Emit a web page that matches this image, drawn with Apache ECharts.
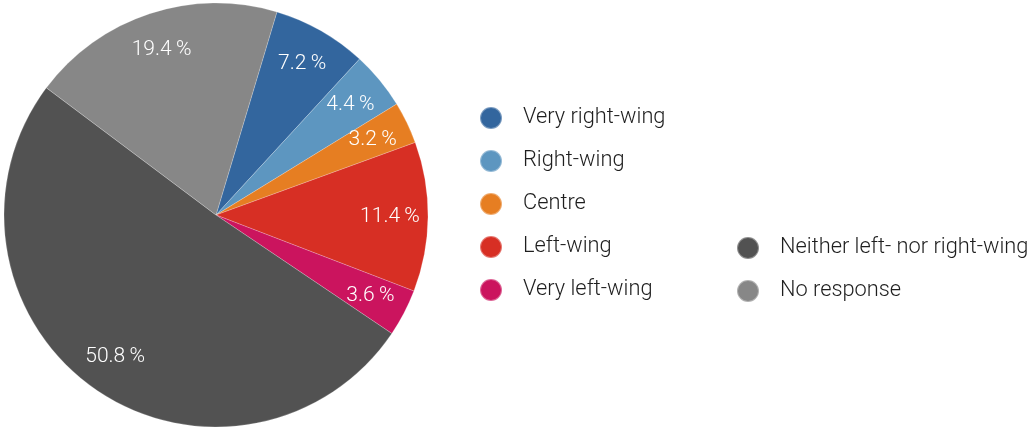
<!DOCTYPE html>
<html><head><meta charset="utf-8">
<script src="https://cdn.jsdelivr.net/npm/echarts@6/dist/echarts.min.js"></script>
<style>html,body{margin:0;padding:0;background:#fff}#c{width:1031px;height:428px}</style>
</head><body><div id="c"></div>
<script>
const categories = ['Very right-wing','Right-wing','Centre','Left-wing','Very left-wing','Neither left- nor right-wing','No response'];
const values = [7.2, 4.4, 3.2, 11.4, 3.6, 50.8, 19.4];
const colors = ['#33669e','#5d96c0','#e67e22','#d72f24','#cb145e','#525252','#878787'];
const legend1 = categories.slice(0,5);
const legend2 = categories.slice(5);

const data = categories.map((n,i)=>({name:n, value:values[i], itemStyle:{color:colors[i]}}));
const chart = echarts.init(document.getElementById('c'));
const legendText = {fontFamily:'Roboto', fontSize:21.8, fontWeight:300, color:'#1e1e1e', lineHeight:22, padding:[0,0,0,16]};
chart.setOption({
  animation:false,
  legend:[
    {data:legend1, orient:'vertical', left:474, top:101, icon:'circle', itemWidth:22, itemHeight:22, itemGap:19, textStyle:legendText, selectedMode:false},
    {data:legend2, orient:'vertical', left:731, top:231, icon:'circle', itemWidth:22, itemHeight:22, itemGap:19, textStyle:legendText, selectedMode:false}
  ],
  series:[
    {type:'pie', center:[216,215], radius:[0,212], startAngle:73.3, clockwise:true,
     label:{show:false}, labelLine:{show:false}, silent:true,
     itemStyle:{borderWidth:0.6, borderColor:'rgba(255,255,255,0.35)'},
     data:data},
    {type:'pie', center:[216,215], radius:[130,212], startAngle:73.3, clockwise:true, silent:true,
     itemStyle:{color:'rgba(0,0,0,0)'}, labelLine:{show:false},
     label:{show:true, position:'inside', color:'#fff', fontFamily:'Roboto', fontWeight:300, fontSize:21,
       formatter:p=>p.value.toFixed(1)+'\u2009%'},
     data:categories.map((n,i)=>({name:n, value:values[i], itemStyle:{color:'rgba(0,0,0,0)'}}))}
  ]
});
</script></body></html>
